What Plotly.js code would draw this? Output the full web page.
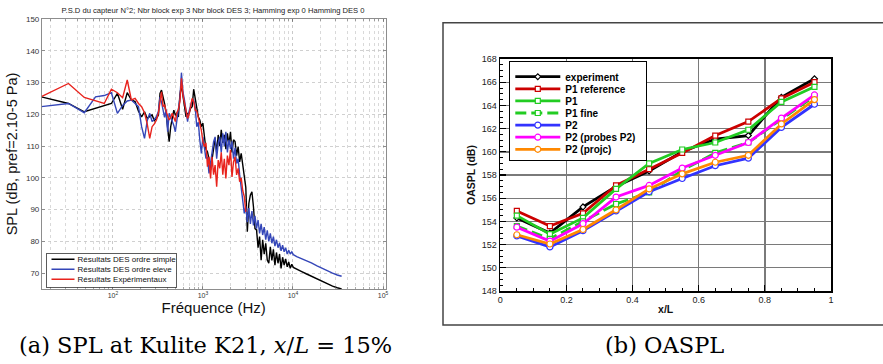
<!DOCTYPE html>
<html><head><meta charset="utf-8">
<script src="https://cdn.plot.ly/plotly-3.0.1.min.js"></script>
<style>html,body{margin:0;padding:0;background:#fff;}#chart{width:883px;height:364px;}</style>
</head><body><div id="chart"></div>
<script>
// ---------- (a) PSD data ----------
const freq = [16, 32, 48, 64, 80, 96, 112, 128, 144, 160,
  176, 192, 208, 224, 240, 256, 272, 288, 304, 320,
  333, 346, 360, 374, 389, 405, 421, 438, 455, 474,
  493, 512, 533, 554, 576, 599, 623, 648, 674, 701,
  729, 758, 788, 820, 853, 887, 922, 959, 997, 1037,
  1078, 1121, 1166, 1213, 1261, 1312, 1364, 1419, 1476, 1535,
  1596, 1660, 1726, 1795, 1867, 1942, 2020, 2100, 2184, 2272,
  2363, 2457, 2555, 2658, 2764, 2875, 2990, 3109, 3234, 3363,
  3497, 3637, 3783, 3934, 4092, 4255, 4426, 4603, 4787, 4978,
  5178, 5385, 5600, 5824, 6057, 6300, 6552, 6814, 7086, 7370,
  7665, 7971, 8290, 8622, 8967, 9325, 9698, 10086, 11000, 12500,
  14000, 16000, 18500, 21000, 24000, 27500, 31000, 34700];
const splDesSimple = [125.5, 123.4, 120.8, 121.8, 122.6, 123.4, 126.6, 121.6, 126.8, 124.5,
  124.0, 121.0, 119.2, 120.8, 118.7, 119.2, 119.8, 118.0, 118.7, 119.8,
  126.6, 127.6, 125.5, 123.4, 120.3, 116.1, 111.4, 116.1, 118.7, 121.3,
  119.8, 120.3, 119.2, 126.1, 129.2, 125.5, 122.4, 119.2, 120.3, 120.3,
  121.9, 122.4, 127.9, 124.5, 122.4, 119.2, 118.2, 116.1, 117.2, 113.0,
  109.0, 108.2, 106.0, 102.5, 105.6, 110.0, 112.4, 108.0, 113.5, 110.0,
  115.1, 111.0, 113.5, 109.0, 114.0, 110.5, 114.5, 108.0, 112.0, 111.4,
  107.0, 109.8, 105.0, 107.7, 104.0, 100.0, 97.0, 83.0, 92.0, 94.6,
  95.6, 90.9, 84.0, 83.6, 78.0, 81.5, 74.1, 80.5, 76.0, 79.4,
  74.1, 73.1, 78.3, 74.0, 77.5, 72.5, 76.5, 73.1, 76.0, 71.5,
  75.0, 72.5, 74.5, 72.0, 73.5, 71.5, 72.8, 71.8, 71.2, 70.5,
  69.8, 69.0, 68.1, 67.4, 66.6, 65.9, 65.4, 65.0];
const splDesEleve = [122.4, 123.4, 120.5, 125.5, 125.9, 126.8, 120.3, 122.8, 124.2, 124.5,
  123.4, 122.4, 116.1, 112.4, 118.0, 120.3, 117.7, 118.5, 119.2, 121.0,
  125.5, 123.8, 121.3, 119.0, 121.5, 114.5, 120.3, 119.0, 117.7, 116.5,
  114.5, 118.0, 122.0, 125.0, 133.1, 127.0, 124.5, 120.0, 117.7, 121.0,
  122.4, 124.5, 124.5, 122.0, 116.1, 117.5, 111.9, 107.7, 112.9, 110.0,
  106.1, 106.6, 101.4, 104.6, 108.0, 111.4, 112.9, 106.0, 111.0, 112.9,
  108.0, 114.0, 110.0, 114.5, 108.0, 112.0, 109.0, 111.5, 106.0, 109.5,
  104.5, 106.0, 101.0, 97.0, 93.0, 88.8, 91.0, 86.0, 90.5, 85.5,
  89.5, 85.0, 88.0, 84.0, 86.7, 82.5, 85.5, 82.0, 84.5, 80.5,
  83.5, 80.0, 82.5, 79.4, 81.5, 78.5, 80.5, 78.0, 79.5, 77.0,
  78.8, 76.7, 78.0, 76.0, 77.2, 76.0, 76.7, 75.8, 75.2, 74.6,
  74.0, 73.2, 72.3, 71.5, 70.7, 70.0, 69.4, 69.0];
const splExp = [125.6, 129.7, 125.3, 124.3, 123.4, 127.9, 126.8, 125.2, 130.8, 124.5,
  125.0, 123.4, 122.4, 120.5, 117.0, 112.4, 116.1, 117.0, 118.2, 120.5,
  124.5, 127.1, 122.4, 123.0, 121.0, 119.5, 118.2, 119.0, 120.3, 119.0,
  117.7, 120.5, 121.5, 124.0, 131.3, 126.0, 123.4, 121.3, 118.7, 120.0,
  122.5, 125.0, 124.0, 121.3, 121.0, 119.0, 117.7, 115.0, 111.4, 109.8,
  111.0, 103.5, 106.6, 99.8, 106.6, 101.0, 104.0, 97.2, 105.6, 103.0,
  108.0, 101.0, 106.0, 99.8, 107.0, 104.0, 108.8, 100.3, 105.0, 106.6,
  100.9, 103.0, 98.8, 100.0, 96.0, 94.1, 89.3];
const freqTickVals = [100, 1000, 10000, 100000];
const freqTickText = ['10<sup>2</sup>', '10<sup>3</sup>', '10<sup>4</sup>', '10<sup>5</sup>'];
const psdNames = ['Résultats DES ordre simple', 'Résultats DES ordre eleve', 'Résultats Expérimentaux'];

// ---------- (b) OASPL data ----------
const xL = [0.05, 0.15, 0.25, 0.35, 0.45, 0.55, 0.65, 0.75, 0.85, 0.95];
const experiment = [154.3, 153.0, 155.25, 157.0, 158.35, 160.0, 161.1, 161.4, 164.7, 166.3];
const p1Reference = [154.9, 153.6, 154.7, 157.1, 158.5, 159.9, 161.4, 162.6, 164.6, 166.0];
const p1 = [154.5, 152.9, 154.3, 156.8, 159.0, 160.2, 160.8, 161.9, 164.3, 165.6];
const p1Fine = [153.6, 152.5, 154.0, 155.5, 156.5, 158.4, 159.9, 160.8, 162.8, 164.8];
const p2 = [152.75, 151.8, 153.2, 154.9, 156.55, 157.7, 158.8, 159.45, 162.1, 164.1];
const p2Probes = [153.5, 152.3, 153.8, 156.1, 157.1, 158.6, 159.7, 160.8, 162.9, 164.9];
const p2Projc = [152.85, 152.05, 153.3, 155.0, 156.8, 158.1, 159.1, 159.7, 162.4, 164.5];
const oasplNames = ['experiment', 'P1 reference', 'P1', 'P1 fine', 'P2', 'P2 (probes P2)', 'P2 (projc)'];

const W = 883, H = 364;
const fx = p => p / W, fy = p => 1 - p / H;
const SANS = 'Liberation Sans, Arial, Helvetica, sans-serif';

const data = [
  {x: freq, y: splDesSimple, name: psdNames[0], type: 'scatter', mode: 'lines', xaxis: 'x', yaxis: 'y',
   line: {color: '#000000', width: 1.4}, legend: 'legend'},
  {x: freq, y: splDesEleve, name: psdNames[1], type: 'scatter', mode: 'lines', xaxis: 'x', yaxis: 'y',
   line: {color: '#3446b8', width: 1.4}, legend: 'legend'},
  {x: freq.slice(0, splExp.length), y: splExp, name: psdNames[2], type: 'scatter', mode: 'lines', xaxis: 'x', yaxis: 'y',
   line: {color: '#e8231d', width: 1.4}, legend: 'legend'}
];
const oasplSeries = [
  {y: experiment, color: '#000000', symbol: 'diamond', size: 4.5, dash: 'solid'},
  {y: p1Reference, color: '#cc0000', symbol: 'square', size: 5, dash: 'solid'},
  {y: p1, color: '#22cc22', symbol: 'square', size: 5, dash: 'solid'},
  {y: p1Fine, color: '#22cc22', symbol: 'square', size: 5, dash: '11px,5px'},
  {y: p2, color: '#3333ff', symbol: 'circle', size: 6, dash: 'solid'},
  {y: p2Probes, color: '#ff00ff', symbol: 'circle', size: 6, dash: 'solid'},
  {y: p2Projc, color: '#ff8800', symbol: 'circle', size: 6, dash: 'solid'}
];
oasplSeries.forEach((s, i) => {
  data.push({x: xL, y: s.y, name: oasplNames[i], type: 'scatter', mode: 'lines+markers',
    xaxis: 'x2', yaxis: 'y2', legend: 'legend2',
    line: {color: s.color, width: 2.8, dash: s.dash},
    marker: {symbol: s.symbol, size: s.size, color: '#ffffff', line: {color: s.color, width: 1.2}}});
});

const layout = {
  width: W, height: H, margin: {l: 0, r: 0, t: 0, b: 0},
  paper_bgcolor: '#ffffff', plot_bgcolor: '#ffffff',
  font: {family: SANS, color: '#000'},
  showlegend: true,
  title: {text: 'P.S.D du capteur N°2; Nbr block exp 3 Nbr block DES 3; Hamming exp 0 Hamming DES 0',
    x: fx(213), xanchor: 'center', y: fy(10), yanchor: 'middle', font: {size: 7.6, color: '#222'}},
  xaxis: {type: 'log', domain: [fx(41.7), fx(385.7)], range: [1.208, 5.03], anchor: 'y',
    showline: true, linecolor: '#707070', linewidth: 0.8, mirror: 'ticks',
    ticks: 'inside', ticklen: 3, tickcolor: '#707070', tickwidth: 0.7,
    tickmode: 'array', tickvals: freqTickVals, ticktext: freqTickText,
    tickfont: {size: 7, color: '#333'},
    showgrid: true, gridcolor: '#c4c4c4', griddash: 'dot', gridwidth: 0.8,
    minor: {dtick: 'D1', showgrid: true, gridcolor: '#cfcfcf', griddash: 'dot', gridwidth: 0.8,
      ticks: 'inside', ticklen: 2, tickcolor: '#707070', tickwidth: 0.6},
    zeroline: false,
    title: {text: 'Fréquence (Hz)', font: {size: 15, color: '#111'}, standoff: 3}},
  yaxis: {domain: [fy(289), fy(19)], range: [65, 150], anchor: 'x',
    tick0: 0, dtick: 10, showline: true, linecolor: '#707070', linewidth: 0.8, mirror: 'ticks',
    ticks: 'inside', ticklen: 3, tickcolor: '#707070', tickwidth: 0.7,
    tickfont: {size: 8, color: '#333'},
    showgrid: true, gridcolor: '#c4c4c4', griddash: 'dot', gridwidth: 0.8, zeroline: false,
    title: {text: 'SPL (dB, pref=2.10-5 Pa)', font: {size: 14.5, color: '#111'}, standoff: 4}},
  xaxis2: {domain: [fx(500.3), fx(831)], range: [0, 1], anchor: 'y2',
    tick0: 0, dtick: 0.2, ticks: 'inside', ticklen: 6, tickcolor: '#000', tickwidth: 1.2,
    minor: {dtick: 0.05, ticks: 'inside', ticklen: 3, tickcolor: '#000', tickwidth: 1, showgrid: false},
    showgrid: true, gridcolor: '#7a7a7a', gridwidth: 1.4,
    showline: true, linecolor: '#000', linewidth: 1.6, mirror: true, zeroline: false,
    tickfont: {size: 9, color: '#222'},
    title: {text: 'x/L', font: {size: 10.5, weight: 'bold', color: '#111'}, standoff: 1}},
  yaxis2: {domain: [fy(291), fy(59)], range: [148, 168], anchor: 'x2',
    tick0: 0, dtick: 2, ticks: 'inside', ticklen: 6, tickcolor: '#000', tickwidth: 1.2,
    minor: {dtick: 0.5, ticks: 'inside', ticklen: 3, tickcolor: '#000', tickwidth: 1, showgrid: false},
    showgrid: true, gridcolor: '#7a7a7a', gridwidth: 1.4,
    showline: true, linecolor: '#000', linewidth: 1.6, mirror: true, zeroline: false,
    tickfont: {size: 9, color: '#222'},
    title: {text: 'OASPL (dB)', font: {size: 10.5, weight: 'bold', color: '#111'}, standoff: 4}},
  legend: {x: fx(45.7), xanchor: 'left', y: fy(252.7), yanchor: 'top',
    bgcolor: '#ffffff', bordercolor: '#333', borderwidth: 0.8,
    font: {size: 8, color: '#111'}, itemwidth: 30, tracegroupgap: 0},
  legend2: {x: fx(509), xanchor: 'left', y: fy(61), yanchor: 'top',
    bgcolor: '#ffffff', bordercolor: '#000', borderwidth: 1.3,
    font: {size: 10, weight: 'bold', color: '#000'}, itemwidth: 45, tracegroupgap: 0},
  shapes: [{type: 'rect', xref: 'paper', yref: 'paper', x0: fx(443), x1: fx(892), y0: fy(325), y1: fy(22.7),
    line: {color: '#444', width: 1.5}, fillcolor: 'rgba(0,0,0,0)', layer: 'below'}],
  annotations: [
    {xref: 'paper', yref: 'paper', x: fx(205), y: fy(345), xanchor: 'center', yanchor: 'middle', showarrow: false,
     text: '(a) SPL at Kulite K21, <i>x</i>/<i>L</i> = 15%', font: {family: 'DejaVu Serif, serif', size: 22.5, color: '#000'}},
    {xref: 'paper', yref: 'paper', x: fx(664), y: fy(345), xanchor: 'center', yanchor: 'middle', showarrow: false,
     text: '(b) OASPL', font: {family: 'DejaVu Serif, serif', size: 22.5, color: '#000'}}
  ]
};

function fixLegend(id, o) {
  const g = document.querySelector('g.' + id);
  if (!g) return;
  const items = g.querySelectorAll('g.traces');
  items.forEach((it, i) => {
    const m = /translate\(\s*([-\d.e]+)/.exec(it.getAttribute('transform') || '');
    const x = m ? parseFloat(m[1]) : 0;
    it.setAttribute('transform', 'translate(' + x + ',' + (o.first + i * o.rowH) + ')');
    if (o.line) {
      it.querySelectorAll('path.js-line').forEach(p => p.setAttribute('d', 'M5,0h' + o.line));
      const t = it.querySelector('text.legendtext');
      if (t) {
        t.setAttribute('x', o.textX);
        t.querySelectorAll('tspan').forEach(s => { if (s.getAttribute('x') !== null) s.setAttribute('x', o.textX); });
      }
    }
  });
  const bg = g.querySelector('rect.bg');
  if (bg) { bg.setAttribute('width', o.w); bg.setAttribute('height', o.h); }
}

Plotly.newPlot('chart', data, layout, {staticPlot: true, displayModeBar: false}).then(() => {
  fixLegend('legend', {rowH: 10, first: 6.6, w: 130, h: 34, line: 23, textX: 31});
  fixLegend('legend2', {rowH: 12.1, first: 15.7, w: 137, h: 99});
});
</script>
</body></html>
